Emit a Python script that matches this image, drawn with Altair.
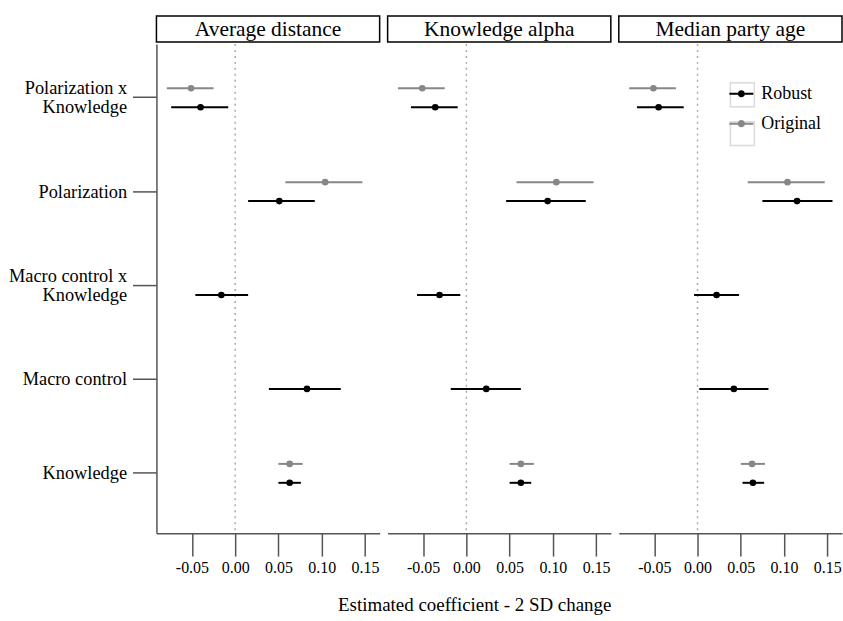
import altair as alt
import pandas as pd

FONT = "Liberation Serif"

panels = ["Average distance", "Knowledge alpha", "Median party age"]
terms = ["Polarization x Knowledge", "Polarization", "Macro control x Knowledge",
         "Macro control", "Knowledge"]
series_names = ["Robust", "Original"]
zero_line = [0.0]
x_ticks = [-0.05, 0.0, 0.05, 0.10, 0.15]

# Robust estimates (per panel, in order of `terms`)
robust_est = {
    "Average distance": [-0.040, 0.051, -0.016, 0.083, 0.063],
    "Knowledge alpha":  [-0.036, 0.094, -0.031, 0.023, 0.063],
    "Median party age": [-0.045, 0.115, 0.022, 0.042, 0.064],
}
robust_lo = {
    "Average distance": [-0.074, 0.015, -0.046, 0.039, 0.050],
    "Knowledge alpha":  [-0.064, 0.046, -0.057, -0.018, 0.050],
    "Median party age": [-0.070, 0.075, -0.004, 0.002, 0.052],
}
robust_hi = {
    "Average distance": [-0.008, 0.092, 0.015, 0.122, 0.076],
    "Knowledge alpha":  [-0.010, 0.138, -0.007, 0.063, 0.075],
    "Median party age": [-0.016, 0.156, 0.048, 0.082, 0.077],
}
# Original estimates (same original model in every panel)
original_terms = ["Polarization x Knowledge", "Polarization", "Knowledge"]
original_est = [-0.051, 0.104, 0.063]
original_lo = [-0.079, 0.058, 0.050]
original_hi = [-0.025, 0.147, 0.078]

rows = []
for p in panels:
    for t, e, l, h in zip(terms, robust_est[p], robust_lo[p], robust_hi[p]):
        rows.append(dict(panel=p, term=t, series="Robust", est=e, lo=l, hi=h))
    for t, e, l, h in zip(original_terms, original_est, original_lo, original_hi):
        rows.append(dict(panel=p, term=t, series="Original", est=e, lo=l, hi=h))
df = pd.DataFrame(rows)
df["key"] = df["series"]
zero_df = pd.DataFrame({"zero": zero_line})

AXIS_COLOR = "#555555"
GRAY = "#878787"

# legend placement inside the third panel's plot area
LEG_X = 111
LEG_Y = 38

xscale = alt.Scale(domain=[-0.091, 0.167], nice=False, zero=False)
xaxis = alt.Axis(values=x_ticks, grid=False, tickSize=23, tickWidth=1.5, tickColor=AXIS_COLOR,
                 domainColor=AXIS_COLOR, domainWidth=1.5, labelFontSize=16, labelColor="black",
                 labelPadding=3, labelFont=FONT, title=None,
                 labelExpr="replace(format(datum.value, '.2f'), '\u2212', '-')")

yaxis = alt.Axis(grid=False, tickSize=24, tickWidth=1.5, tickColor=AXIS_COLOR,
                 domainColor=AXIS_COLOR, domainWidth=1.5, labelFontSize=18.4, labelColor="black",
                 labelFont=FONT, labelPadding=6, labelLineHeight=19, labelLimit=300,
                 labelOffset={"condition": {"test": "indexof(datum.value, ' x ') >= 0", "value": -9.5},
                              "value": 0},
                 minExtent=150, maxExtent=150, title=None,
                 labelExpr="indexof(datum.label, ' x ') >= 0 ? [substring(datum.label, 0, indexof(datum.label, ' x ') + 2), substring(datum.label, indexof(datum.label, ' x ') + 3)] : datum.label")

color_scale = alt.Scale(domain=series_names, range=["#000000", GRAY])

legend = alt.Legend(
    title=None, orient="none", legendX=LEG_X, legendY=LEG_Y,
    symbolType="M-1,-0.085H1V0.085H-1Z M0.3,0A0.3,0.3 0 1 1 -0.3,0A0.3,0.3 0 1 1 0.3,0Z",
    symbolSize=576, symbolStrokeWidth=0, labelFontSize=18, labelFont=FONT,
    labelOffset=8, rowPadding=9, labelColor="black", padding=0,
)

box_legend = alt.Legend(
    title=None, orient="none", legendX=LEG_X, legendY=LEG_Y,
    symbolType="M-1.25,-1.25H1.25V1.25H-1.25Z", symbolSize=576, symbolStrokeColor="#cccccc",
    symbolFillColor="transparent", symbolStrokeWidth=1.5,
    labelExpr="''", labelFontSize=18, rowPadding=9, padding=0,
)


def panel_chart(name, idx):
    base = alt.Chart(df).transform_filter(alt.datum.panel == name)
    y = alt.Y("term:N", sort=terms,
              scale=alt.Scale(domain=terms, paddingInner=0.597, paddingOuter=0.4035, align=0.46),
              axis=yaxis if idx == 0 else None, title=None)
    yoff = alt.YOffset("series:N",
                       scale=alt.Scale(type="point", domain=["Original", "Robust"], padding=0.5))
    color = alt.Color("series:N", scale=color_scale, legend=legend if idx == 2 else None)
    zero = alt.Chart(zero_df).mark_rule(strokeDash=[2, 4], color="#aaaaaa", strokeWidth=1.5).encode(
        x=alt.X("zero:Q", scale=xscale, axis=xaxis, title=None))
    rules = base.mark_rule(strokeWidth=2).encode(
        x=alt.X("lo:Q", scale=xscale, axis=xaxis, title=None), x2="hi:Q", y=y, yOffset=yoff, color=color)
    pts = base.mark_circle(size=44, opacity=1).encode(
        x=alt.X("est:Q", scale=xscale, axis=xaxis, title=None), y=y, yOffset=yoff, color=color)
    layers = [zero, rules, pts]
    if idx == 2:
        boxes = base.mark_point(size=0, filled=False, color="#cccccc").encode(
            x=alt.X("est:Q", scale=xscale, axis=xaxis, title=None), y=y, yOffset=yoff,
            shape=alt.Shape("key:N", scale=alt.Scale(range=["square", "square"]), legend=box_legend))
        layers.insert(0, boxes)
    main = alt.layer(*layers).properties(width=224, height=491,
                                         view=alt.ViewBackground(stroke=None))
    strip = alt.Chart(pd.DataFrame({"panel": [name]})).mark_text(
        fontSize=21.5, font=FONT, color="black", baseline="middle", dy=1).encode(
        text="panel:N").properties(width=224, height=26,
                                    view=alt.ViewBackground(stroke="black", strokeWidth=1.5))
    return alt.vconcat(strip, main, spacing=0).resolve_legend(color="independent", shape="independent")


chart = alt.hconcat(*[panel_chart(p, i) for i, p in enumerate(panels)], spacing=6).resolve_legend(
    color="independent", shape="independent").properties(
    title=alt.TitleParams("Estimated coefficient - 2 SD change", orient="bottom", anchor="middle",
                          fontSize=19, font=FONT, fontWeight="normal", color="black", offset=21, dx=50),
    padding={"left": 7, "top": 14, "right": 0, "bottom": 0},
).configure(font=FONT).configure_view(stroke=None)

chart.save("out.html", embed_options={"renderer": "svg", "actions": False})
